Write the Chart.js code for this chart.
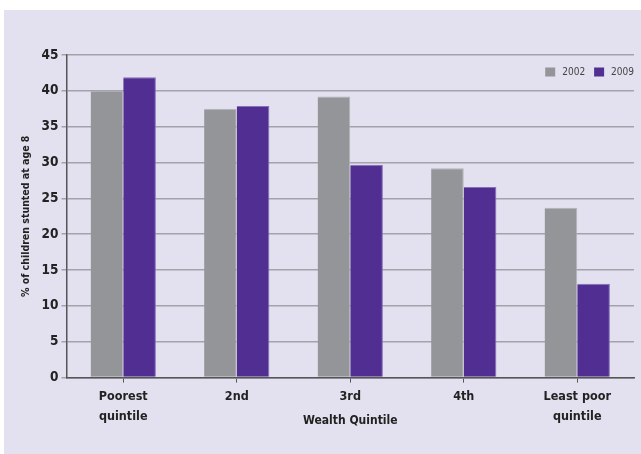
<!DOCTYPE html>
<html>
<head>
<meta charset="utf-8">
<script src="https://cdn.jsdelivr.net/npm/chart.js@4.4.1/dist/chart.umd.min.js"></script>
<style>
  html, body { margin: 0; padding: 0; background: #ffffff; }
  #wrap { width: 641px; height: 454px; position: relative; }
</style>
</head>
<body>
<div id="wrap"><canvas id="myChart" width="641" height="454"></canvas></div>
<script>
const quintis = [['Poorest', 'quintile'], '2nd', '3rd', '4th', ['Least poor', 'quintile']];
const anos = ['2002', '2009'];
const valores2002 = [40.0, 37.5, 39.2, 29.2, 23.7];
const valores2009 = [41.9, 37.9, 29.7, 26.6, 13.1];
const marcasY = [0, 5, 10, 15, 20, 25, 30, 35, 40, 45];

const fonte = "'Liberation Sans Narrow', 'Arial Narrow', 'DejaVu Sans Condensed', 'Liberation Sans', sans-serif";

// fundo lilas atras do grafico
const fundo = {
    id: 'fundo',
    beforeDraw(chart) {
        const c = chart.ctx;
        c.save();
        c.fillStyle = '#e3e0ef';
        c.fillRect(4, 10, chart.width - 4, chart.height - 10);
        c.restore();
    }
};

// legenda dentro da area do grafico, canto superior direito
const legenda = {
    id: 'legenda',
    afterDraw(chart) {
        const c = chart.ctx;
        const area = chart.chartArea;
        const sets = chart.data.datasets;
        c.save();
        c.font = '10px ' + fonte;
        c.textBaseline = 'middle';
        let x = area.right;
        const y = area.top + 17;
        for (let i = sets.length - 1; i >= 0; i--) {
            const w = c.measureText(sets[i].label).width;
            x -= w;
            c.fillStyle = '#444';
            c.fillText(sets[i].label, x, y);
            x -= 7 + 10;
            c.fillStyle = sets[i].backgroundColor;
            c.fillRect(x, y - 4.5, 10, 9);
            x -= 9;
        }
        c.restore();
    }
};

function grafico() {
    const ctx = document.getElementById('myChart');
    const myChart = new Chart(ctx, {
        type: 'bar',
        data: {
            labels: quintis,
            datasets: [{
                label: anos[0],
                data: valores2002,
                backgroundColor: '#949598',
                borderColor: '#b4b5ba',
                borderWidth: {top: 1, left: 0, right: 1, bottom: 0},
                borderSkipped: 'bottom'
            }, {
                label: anos[1],
                data: valores2009,
                backgroundColor: '#512e92',
                borderColor: '#8670b8',
                borderWidth: {top: 1, left: 0, right: 1, bottom: 0},
                borderSkipped: 'bottom'
            }]
        },
        options: {
            responsive: false,
            animation: false,
            layout: {
                padding: {top: 55, left: 20, right: 7, bottom: 26}
            },
            datasets: {
                bar: {
                    categoryPercentage: 0.575,
                    barPercentage: 1
                }
            },
            plugins: {
                legend: {display: false},
                tooltip: {enabled: false}
            },
            scales: {
                x: {
                    grid: {
                        drawOnChartArea: false,
                        drawTicks: true,
                        tickLength: 5,
                        offset: false,
                        color: '#555'
                    },
                    border: {color: '#555', width: 1.5},
                    ticks: {
                        color: '#222',
                        padding: 4,
                        font: {family: fonte, size: 12.5, weight: 'bold', lineHeight: 1.6}
                    },
                    title: {
                        display: true,
                        text: 'Wealth Quintile',
                        color: '#222',
                        padding: {top: -17, bottom: 0},
                        font: {family: fonte, size: 12, weight: 'bold'}
                    }
                },
                y: {
                    min: 0,
                    max: 45,
                    afterBuildTicks(axis) {
                        axis.ticks = marcasY.map(v => ({value: v}));
                    },
                    grid: {
                        color: '#a3a2ab',
                        lineWidth: 1.5,
                        tickLength: 5
                    },
                    border: {color: '#555', width: 1.5},
                    ticks: {
                        color: '#222',
                        padding: 3,
                        font: {family: fonte, size: 13.5, weight: 'bold'}
                    },
                    title: {
                        display: true,
                        text: '% of children stunted at age 8',
                        color: '#222',
                        padding: {top: 0, bottom: 6},
                        font: {family: fonte, size: 10.5, weight: 'bold'}
                    }
                }
            }
        },
        plugins: [fundo, legenda]
    });
    return myChart;
}

grafico();
</script>
</body>
</html>
